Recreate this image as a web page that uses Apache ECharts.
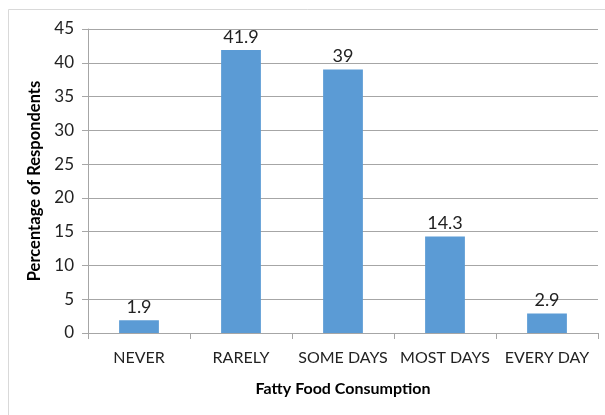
<!DOCTYPE html>
<html>
<head>
<meta charset="utf-8">
<script src="https://cdn.jsdelivr.net/npm/echarts@6/dist/echarts.min.js"></script>
<style>
  html, body { margin: 0; padding: 0; background: #fff; }
  #chart { width: 605px; height: 415px; }
</style>
</head>
<body>
<div id="chart"></div>
<script>
// 数据
const categories = ['NEVER', 'RARELY', 'SOME DAYS', 'MOST DAYS', 'EVERY DAY']
const values = [1.9, 41.9, 39, 14.3, 2.9]
const yTicks = [0, 5, 10, 15, 20, 25, 30, 35, 40, 45]

const chart = echarts.init(document.getElementById('chart'))

const options = {
  backgroundColor: '#fff',
  animation: false,
  textStyle: { fontFamily: 'Lato, "Open Sans", sans-serif' },
  graphic: [
    {
      type: 'rect',
      shape: { x: 8.5, y: 9.5, width: 620, height: 420 },
      style: { fill: 'none', stroke: '#d9d9d9', lineWidth: 1 },
      silent: true,
    },
  ],
  grid: { left: 88, right: 7, top: 29, bottom: 82 },
  xAxis: {
    type: 'category',
    data: categories,
    name: 'Fatty Food Consumption',
    nameLocation: 'middle',
    nameGap: 48,
    nameTextStyle: { fontSize: 16, fontWeight: 'bold', color: '#000' },
    axisLine: { lineStyle: { color: '#a6a6a6' } },
    axisTick: { show: true, length: 6, lineStyle: { color: '#a6a6a6' } },
    axisLabel: { interval: 0, fontSize: 16, color: '#222', margin: 17 },
  },
  yAxis: {
    type: 'value',
    min: yTicks[0],
    max: yTicks[yTicks.length - 1],
    interval: 5,
    name: 'Percentage of Respondents',
    nameLocation: 'middle',
    nameGap: 45,
    nameTextStyle: { fontSize: 16.5, fontWeight: 'bold', color: '#000' },
    axisLine: { show: true, lineStyle: { color: '#a6a6a6' } },
    axisTick: { show: true, length: 6, lineStyle: { color: '#a6a6a6' } },
    axisLabel: { fontSize: 17, color: '#222', margin: 14 },
    splitLine: { lineStyle: { color: '#a6a6a6' } },
  },
  series: [
    {
      type: 'bar',
      data: values,
      barWidth: '39%',
      itemStyle: { color: '#5b9bd5' },
      label: {
        show: true,
        position: 'top',
        distance: 4,
        fontSize: 18,
        color: '#222',
      },
    },
  ],
}

chart.setOption(options)
</script>
</body>
</html>
